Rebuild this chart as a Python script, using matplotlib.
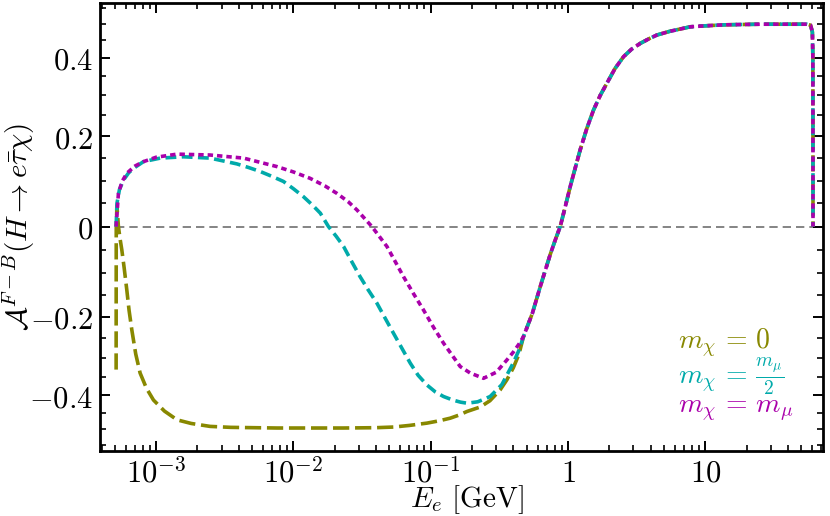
import numpy as np
import matplotlib
matplotlib.use('Agg')
import matplotlib.pyplot as plt

plt.rcParams['mathtext.fontset'] = 'cm'
plt.rcParams['font.family'] = 'serif'

# m_chi = 0
e_olive = [5.11e-4, 5.12e-4, 5.18e-4, 5.31e-4, 5.45e-4, 5.62e-4, 5.85e-4, 6.11e-4,
           6.35e-4, 6.65e-4, 7.1e-4, 7.64e-4, 8.5e-4, 9.56e-4, 1.15e-3, 1.42e-3,
           1.8e-3, 2.47e-3, 3.5e-3, 7.57e-3, 2.31e-2, 4.0e-2, 5.36e-2, 7.0e-2,
           9.38e-2, 0.115, 0.1387, 0.16, 0.184, 0.2295, 0.27, 0.32, 0.359, 0.40, 0.44]
a_olive = [-0.33, 0.0, 0.045, 0.0, -0.025, -0.050, -0.090, -0.138,
           -0.185, -0.231, -0.290, -0.339, -0.380, -0.413, -0.445, -0.471,
           -0.482, -0.491, -0.494, -0.496, -0.496, -0.495, -0.493, -0.488,
           -0.481, -0.474, -0.466, -0.457, -0.446, -0.433, -0.415, -0.385, -0.357, -0.325, -0.29]

# m_chi = m_mu / 2
e_cyan = [5.11e-4, 5.18e-4, 5.4e-4, 5.78e-4, 6.3e-4, 6.84e-4, 8.08e-4, 1.07e-3,
          1.58e-3, 2.47e-3, 3.87e-3, 4.7e-3, 5.73e-3, 7.0e-3, 8.46e-3, 1.0e-2,
          1.18e-2, 1.37e-2, 1.57e-2, 1.80e-2, 2.05e-2, 2.32e-2, 2.65e-2, 3.06e-2,
          3.5e-2, 4.05e-2, 4.6e-2, 5.36e-2, 6.2e-2, 7.09e-2, 8.1e-2, 9.38e-2,
          0.108, 0.124, 0.145, 0.165, 0.184, 0.22, 0.271, 0.33, 0.399, 0.44]
a_cyan = [0.0, 0.050, 0.080, 0.101, 0.117, 0.127, 0.142, 0.150,
          0.153, 0.150, 0.137, 0.129, 0.120, 0.109, 0.098, 0.082,
          0.065, 0.047, 0.029, 0.0, -0.021, -0.043, -0.075, -0.109,
          -0.138, -0.168, -0.200, -0.239, -0.277, -0.313, -0.345, -0.371,
          -0.390, -0.403, -0.413, -0.419, -0.422, -0.418, -0.403, -0.370, -0.313, -0.28]

# m_chi = m_mu
e_mag = [5.11e-4, 5.31e-4, 5.65e-4, 6.11e-4, 7.0e-4, 8.08e-4, 1.0e-3, 1.42e-3,
         2.47e-3, 4.33e-3, 7.57e-3, 1.0e-2, 1.32e-2, 1.7e-2, 2.07e-2, 2.5e-2,
         2.90e-2, 3.73e-2, 4.80e-2, 6.34e-2, 7.5e-2, 8.86e-2, 0.105, 0.124,
         0.164, 0.194, 0.2425, 0.30, 0.359, 0.40, 0.44]
a_mag = [0.0, 0.072, 0.098, 0.116, 0.132, 0.142, 0.152, 0.159,
         0.157, 0.150, 0.131, 0.119, 0.105, 0.088, 0.072, 0.054,
         0.036, 0.0, -0.043, -0.109, -0.147, -0.184, -0.225, -0.263,
         -0.322, -0.339, -0.353, -0.337, -0.305, -0.285, -0.265]

# common part (all three curves coincide)
e_common = [0.474, 0.55, 0.628, 0.743, 0.81, 0.878, 0.95, 1.039, 1.13, 1.228,
            1.37, 1.535, 1.72, 1.922, 2.2, 2.54, 2.9, 3.36, 3.9, 4.45,
            5.5, 7.78, 10.0, 13.6, 18.0, 25.2, 40.0, 55.1, 58.5, 60.3,
            60.8, 60.9, 60.95]
a_common = [-0.247, -0.192, -0.131, -0.060, -0.028, 0.0, 0.040, 0.087, 0.128, 0.169,
            0.218, 0.263, 0.300, 0.331, 0.370, 0.403, 0.424, 0.441, 0.455, 0.466,
            0.477, 0.491, 0.494, 0.497, 0.498, 0.499, 0.499, 0.499, 0.496, 0.475,
            0.40, 0.2, 0.0]

xticks = [1e-3, 1e-2, 1e-1, 1, 10]
xtick_labels = [r'$10^{-3}$', r'$10^{-2}$', r'$10^{-1}$', r'$1$', r'$10$']
yticks = [-0.4, -0.2, 0, 0.2, 0.4]
ytick_labels = [r'$-0.4$', r'$-0.2$', r'$0$', r'$0.2$', r'$0.4$']

olive = '#888800'
cyan = '#00aaaa'
mag = '#aa00aa'

a_sc = 0.48  # y axis is stretched near zero


def fwd(y):
    return np.arcsinh(np.asarray(y) / a_sc)


def inv(y):
    return a_sc * np.sinh(np.asarray(y))


fig = plt.figure(figsize=(8.3, 5.16), dpi=100)
ax = fig.add_axes([0.1205, 0.126, 0.8710, 0.868])
ax.set_xscale('log')
ax.set_yscale('function', functions=(fwd, inv))

ax.plot([5.11e-4, 75], [0, 0], color='#707070', lw=1.2, dashes=(5, 3), zorder=1)

lw = 2.6
ax.plot(e_olive + e_common, a_olive + a_common, color=olive, lw=lw, dashes=(4.5, 1.6), zorder=2)
ax.plot(e_cyan + e_common, a_cyan + a_common, color=cyan, lw=lw, dashes=(3.0, 1.5), zorder=3)
ax.plot(e_mag + e_common, a_mag + a_common, color=mag, lw=lw, dashes=(1.5, 1.1), zorder=4)

ax.set_xlim(3.9e-4, 72)
ax.set_ylim(-0.57, 0.567)

ax.set_xticks(xticks)
ax.set_xticklabels(xtick_labels)
ax.set_yticks(yticks)
ax.set_yticklabels(ytick_labels)
ax.set_yticks(np.arange(-0.55, 0.56, 0.05), minor=True)
ax.xaxis.set_minor_locator(matplotlib.ticker.LogLocator(base=10, subs=np.arange(2, 10), numticks=20))
ax.xaxis.set_minor_formatter(matplotlib.ticker.NullFormatter())

ax.tick_params(which='both', direction='in', top=True, right=True, labelsize=22)
ax.tick_params(which='major', length=7, width=1.4, pad=5)
ax.tick_params(which='minor', length=4, width=1.2)
for s in ax.spines.values():
    s.set_linewidth(2.0)

ax.set_xlabel(r'$E_e\ [\mathrm{GeV}]$', fontsize=21)
ax.xaxis.set_label_coords(0.508, -0.073)
ax.set_ylabel(r'$\mathcal{A}^{F-B}(H\rightarrow e\bar{\tau}\chi)$', fontsize=21, va='center')
ax.yaxis.set_label_coords(-0.112, 0.5)

ax.text(0.80, 0.240, r'$m_\chi\,=\,0$', color=olive, fontsize=20, transform=ax.transAxes, va='center')
ax.text(0.80, 0.165, r'$m_\chi\,=\,\frac{m_\mu}{2}$', color=cyan, fontsize=20, transform=ax.transAxes, va='center')
ax.text(0.80, 0.093, r'$m_\chi\,=\,m_\mu$', color=mag, fontsize=20, transform=ax.transAxes, va='center')

fig.savefig('out.png', dpi=100)
